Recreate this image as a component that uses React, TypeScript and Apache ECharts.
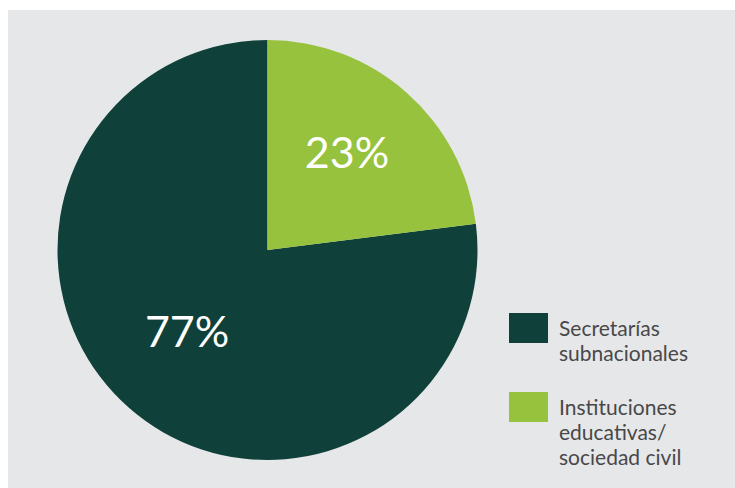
import React, { useEffect, useRef } from "react";
import * as echarts from "echarts";

const categories = ["Secretarías subnacionales", "Instituciones educativas/ sociedad civil"];
const legendLines = [
  ["Secretarías", "subnacionales"],
  ["Instituciones", "educativas/", "sociedad civil"],
];
const values = [77, 23];
const colors = ["#10403a", "#96c23e"];
const labelOffsets = [
  [-9, -1],
  [8, -17],
];

export default function App() {
  const ref = useRef<HTMLDivElement>(null);
  useEffect(() => {
    if (!ref.current) return;
    const chart = echarts.init(ref.current, null, { renderer: "svg" });
    const legendGraphics: any[] = [];
    const legendTops = [303, 382];
    categories.forEach((c, i) => {
      legendGraphics.push({
        type: "rect",
        shape: { x: 501, y: legendTops[i], width: 39, height: 30 },
        style: { fill: colors[i] },
      });
      legendGraphics.push({
        type: "text",
        x: 551,
        y: legendTops[i] + 1.5,
        style: {
          text: legendLines[i].join("\n"),
          font: "21px Lato",
          lineHeight: 25,
          fill: "#48484a",
          verticalAlign: "top",
          align: "left",
        },
      });
    });
    chart.setOption({
      animation: false,
      backgroundColor: "#e6e7e8",
      graphic: legendGraphics,
      series: [
        {
          type: "pie",
          center: [259.5, 240],
          radius: 210,
          startAngle: 90,
          clockwise: false,
          silent: true,
          label: {
            show: true,
            position: "inside",
            formatter: "{c}%",
            color: "#ffffff",
            fontFamily: "Lato",
            fontWeight: "normal",
            fontSize: 43,
          },
          labelLine: { show: false },
          itemStyle: { borderWidth: 0 },
          data: categories.map((name, i) => ({
            name,
            value: values[i],
            itemStyle: { color: colors[i] },
            label: { offset: labelOffsets[i] },
          })),
        },
      ],
    });
    return () => chart.dispose();
  }, []);
  return (
    <div
      ref={ref}
      style={{ position: "absolute", left: 8, top: 10, width: 727, height: 478 }}
    />
  );
}
